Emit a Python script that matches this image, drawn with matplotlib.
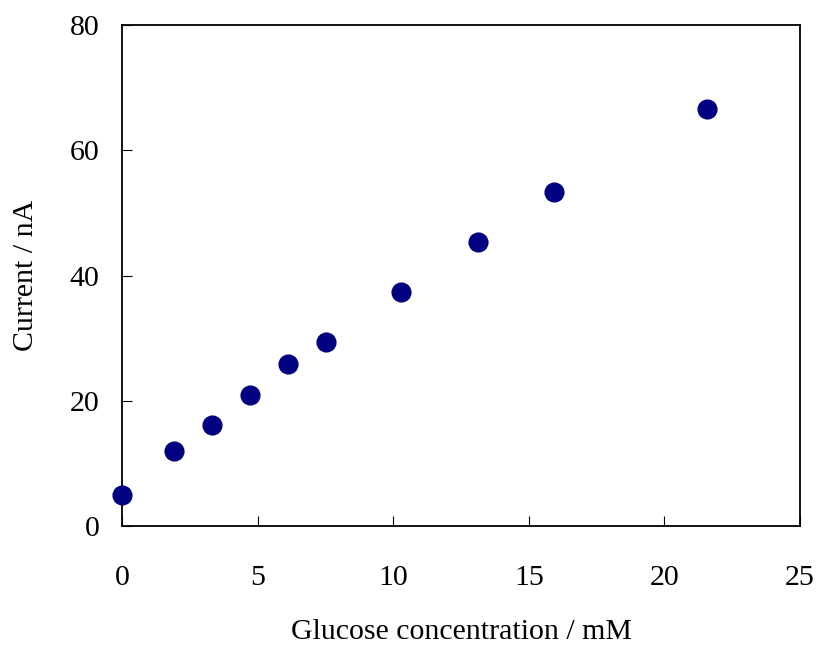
import matplotlib.pyplot as plt

# glucose concentration (mM) vs current (nA)
glucose_mM = [0, 1.92, 3.32, 4.72, 6.12, 7.52, 10.29, 13.13, 15.93, 21.57]
current_nA = [4.95, 12.0, 16.1, 20.9, 25.9, 29.4, 37.4, 45.3, 53.3, 66.6]

plt.rcParams['font.family'] = ['Liberation Serif', 'DejaVu Serif']

fig = plt.figure(figsize=(8.18, 6.47), dpi=100)
ax = fig.add_axes([0.149, 0.187, 0.829, 0.774])

ax.plot(glucose_mM, current_nA, 'o', color='#000080', markersize=13.5,
        clip_on=False, zorder=3)

ax.set_xlim(0, 25)
ax.set_ylim(0, 80)
ax.set_xticks([0, 5, 10, 15, 20, 25])
ax.set_yticks([0, 20, 40, 60, 80])

ax.tick_params(direction='in', length=7, width=0.8, labelsize=21.5)
ax.tick_params(axis='x', pad=28)
ax.tick_params(axis='y', pad=16)
for s in ax.spines.values():
    s.set_linewidth(1.3)

ax.set_xlabel('Glucose concentration / mM', fontsize=21.5, labelpad=20)
ax.set_ylabel('Current / nA', fontsize=21.5, labelpad=22)

fig.savefig('out.png', dpi=100)
